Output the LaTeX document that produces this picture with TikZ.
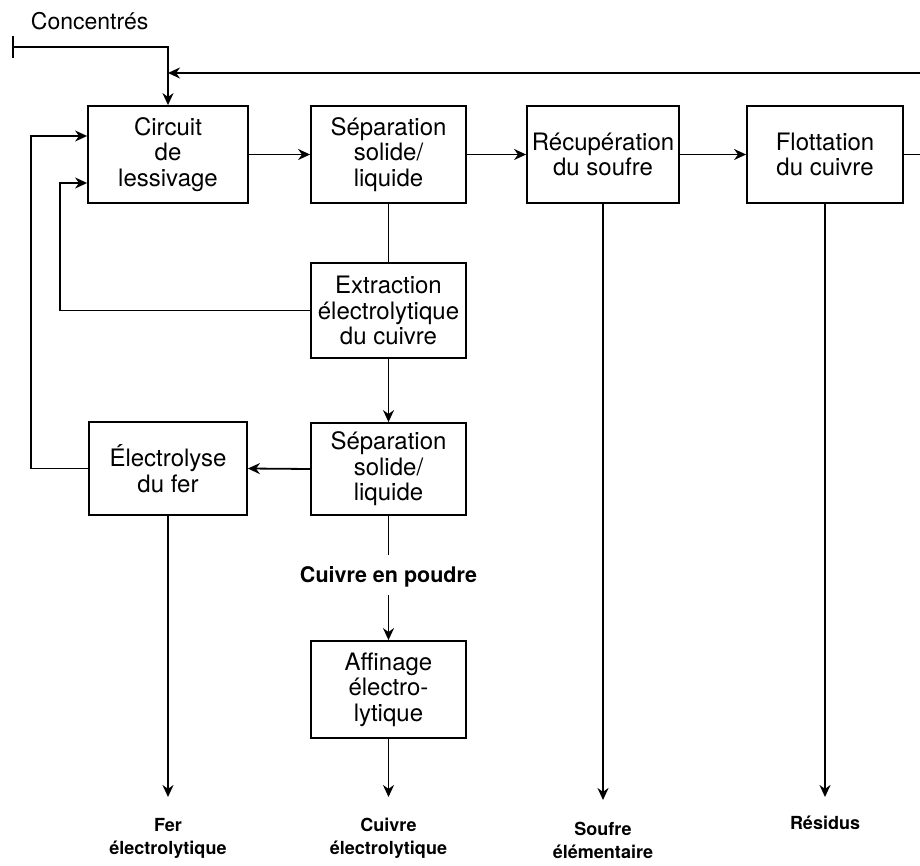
\documentclass[tikz,border=0pt]{standalone}
\usepackage{fontspec}
\setmainfont{TeX Gyre Heros}
\usetikzlibrary{arrows.meta}
\begin{document}
\begin{tikzpicture}[x=1pt,y=-1pt,line width=1.8pt,
  box/.style={draw,line width=1.8pt,align=center,inner sep=0pt,font=\fontsize{24}{25.5}\selectfont},
  flow/.style={-{Stealth[length=12pt,width=11pt]}},
  lab/.style={font=\bfseries\fontsize{18}{23}\selectfont,align=center,inner sep=0pt,anchor=north},
  plain/.style={font=\fontsize{23}{26}\selectfont,inner sep=0pt}]
\useasboundingbox (0,0) rectangle (920,866);
% boxes
\node[box,minimum width=160pt,minimum height=97pt] (circ) at (168,154.5) {Circuit\\de\\lessivage};
\node[box,minimum width=155pt,minimum height=97pt] (sep1) at (388.5,154.5) {Séparation\\solide/\\liquide};
\node[box,minimum width=152pt,minimum height=97pt] (recup) at (603,154.5) {Récupération\\du soufre};
\node[box,minimum width=156pt,minimum height=97pt] (flot) at (825,154.5) {Flottation\\du cuivre};
\node[box,minimum width=155pt,minimum height=95pt] (extr) at (388.5,310.5) {Extraction\\électrolytique\\du cuivre};
\node[box,minimum width=155pt,minimum height=92pt] (sep2) at (388.5,469) {Séparation\\solide/\\liquide};
\node[box,minimum width=158pt,minimum height=93pt] (elec) at (168,468.5) {Électrolyse\\du fer};
\node[box,minimum width=155pt,minimum height=97pt] (aff) at (388.5,689.5) {Affinage\\électro-\\lytique};
% texts
\node[plain,anchor=base west] (conc) at (30,30) {Concentrés};
\node[font=\bfseries\fontsize{21.5}{24}\selectfont,inner sep=0pt,anchor=base] (poudre) at (388.5,582) {Cuivre en poudre};
\node[lab] (fer) at (168,817) {Fer\\électrolytique};
\node[lab] (cuel) at (388.5,817) {Cuivre\\électrolytique};
\node[lab] (souf) at (603,821) {Soufre\\élémentaire};
\node[lab] (resi) at (825,815) {Résidus};
% coordinates
\coordinate (cin) at (13,47);
\coordinate (ret) at (920,73);
\coordinate (fout) at (920,154.5);
\coordinate (lx1) at (60,0);
\coordinate (lx2) at (31,0);
\coordinate (p1) at (388.5,555);
\coordinate (p2) at (388.5,595);
\coordinate (bot) at (0,797);
% connectors
\draw ([yshift=11pt]cin) -- ([yshift=-11pt]cin);
\draw[flow] (cin) -| (circ.north);
\draw[flow] (ret) -- (circ.north |- ret);
\draw[flow] (circ.east) -- (sep1.west);
\draw[flow] (sep1.east) -- (recup.west);
\draw[flow] (recup.east) -- (flot.west);
\draw (flot.east) -- (fout);
\draw (sep1.south) -- (extr.north);
\draw[flow] (extr.south) -- (sep2.north);
\draw[flow] (sep2.west) -- (elec.east);
\draw[flow] (extr.west) -- (extr.west -| lx1) |- ([yshift=-28.5pt]circ.west);
\draw[flow] (elec.west) -- (elec.west -| lx2) |- ([yshift=18.5pt]circ.west);
\draw (sep2.south) -- (p1);
\draw[flow] (p2) -- (aff.north);
\draw[flow] (elec.south) -- (elec.south |- bot);
\draw[flow] (aff.south) -- (aff.south |- bot);
\draw[flow] (recup.south) -- ([yshift=-3pt]recup.south |- bot);
\draw[flow] (flot.south) -- (flot.south |- bot);
\end{tikzpicture}
\end{document}
